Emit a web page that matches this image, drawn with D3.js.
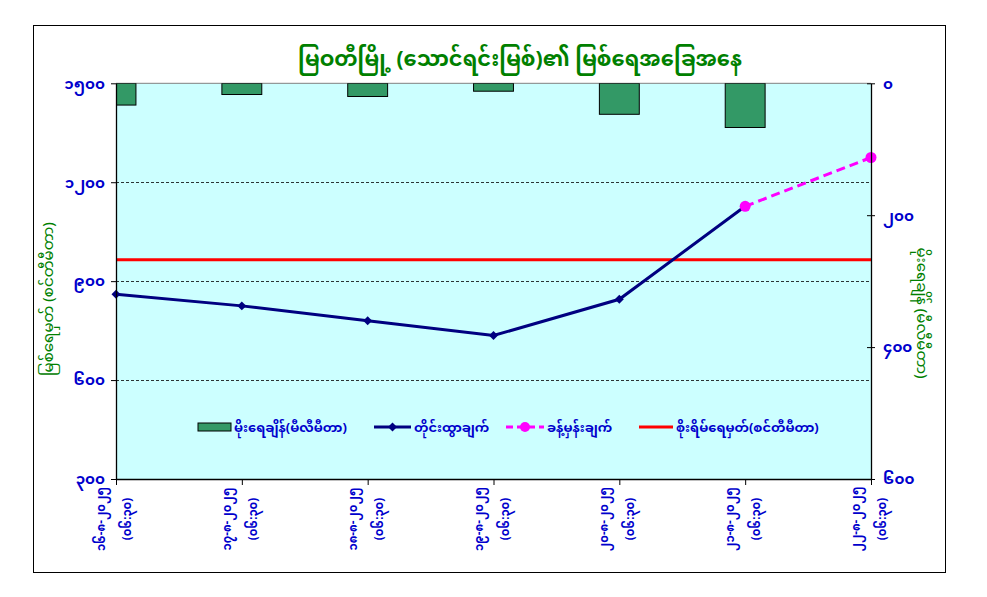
<!DOCTYPE html>
<html>
<head>
<meta charset="utf-8">
<script src="https://cdn.jsdelivr.net/npm/d3@7"></script>
<style>
  html, body { margin: 0; padding: 0; background: #ffffff; }
  svg { display: block; font-family: "Noto Sans Myanmar", "Padauk", "Myanmar Text", "Noto Sans", "DejaVu Sans", sans-serif; }
</style>
</head>
<body>
<svg id="chart" width="987" height="597"></svg>
<script>
// ---------- DATA ----------
const categories = ["၁၆-၈-၂၀၂၅", "၁၇-၈-၂၀၂၅", "၁၈-၈-၂၀၂၅", "၁၉-၈-၂၀၂၅", "၂၀-၈-၂၀၂၅", "၂၁-၈-၂၀၂၅", "၂၂-၈-၂၀၂၅"];
const timeLabels = ["(၀၆:၃၀)", "(၀၆:၃၀)", "(၀၆:၃၀)", "(၀၆:၃၀)", "(၀၆:၃၀)", "(၀၆:၃၀)", "(၀၆:၃၀)"];
const rainfall = [33, 17, 20, 12, 47, 67, null];            // mm, right axis (reversed)
const observed = [860, 825, 780, 735, 845, 1127, null];     // cm, left axis
const forecast = [null, null, null, null, null, 1127, 1275];
const warningLevel = [965, 965, 965, 965, 965, 965, 965];
const leftTickValues = [300, 600, 900, 1200, 1500];
const leftTickLabels = ["၃၀၀", "၆၀၀", "၉၀၀", "၁၂၀၀", "၁၅၀၀"];
const rightTickValues = [0, 200, 400, 600];
const rightTickLabels = ["၀", "၂၀၀", "၄၀၀", "၆၀၀"];
const gridValues = [600, 900, 1200];
const titleText = "မြဝတီမြို့ (သောင်ရင်းမြစ်)၏ မြစ်ရေအခြေအနေ";
const leftAxisTitle = "မြစ်ရေမှတ် (စင်တီမီတာ)";
const rightAxisTitle = "မိုးရေချိန် (မီလီမီတာ)";
const legendLabels = ["မိုးရေချိန်(မီလီမီတာ)", "တိုင်းထွာချက်", "ခန့်မှန်းချက်", "စိုးရိမ်ရေမှတ်(စင်တီမီတာ)"];

// ---------- LAYOUT ----------
const svg = d3.select("#chart");
const plot = { left: 116, right: 871, top: 83.3, bottom: 479 };
const blue = "#0000cc", green = "#008000";

const x = d3.scalePoint().domain(d3.range(categories.length)).range([plot.left, plot.right]);
const yL = d3.scaleLinear().domain([300, 1500]).range([plot.bottom, plot.top]);
const yR = d3.scaleLinear().domain([0, 600]).range([plot.top, plot.bottom]);
const step = x.step();
const barW = step * 0.317;

// outer border
svg.append("rect").attr("x", 33.5).attr("y", 25.5).attr("width", 912).attr("height", 547)
  .attr("fill", "#fff").attr("stroke", "#000").attr("stroke-width", 1);

// title
svg.append("text").attr("x", 520).attr("y", 66).attr("text-anchor", "middle")
  .attr("fill", green).attr("font-size", 21).attr("font-weight", "bold").text(titleText);

// plot background
svg.append("rect").attr("x", plot.left).attr("y", plot.top)
  .attr("width", plot.right - plot.left).attr("height", plot.bottom - plot.top)
  .attr("fill", "#ccffff");
svg.append("line").attr("x1", plot.left).attr("x2", plot.right)
  .attr("y1", plot.top).attr("y2", plot.top).attr("stroke", "#808080").attr("stroke-width", 1);

svg.append("clipPath").attr("id", "clip").append("rect")
  .attr("x", plot.left).attr("y", plot.top)
  .attr("width", plot.right - plot.left).attr("height", plot.bottom - plot.top);

// gridlines
svg.append("g").selectAll("line").data(gridValues).join("line")
  .attr("x1", plot.left).attr("x2", plot.right)
  .attr("y1", d => Math.round(yL(d)) + 0.5).attr("y2", d => Math.round(yL(d)) + 0.5)
  .attr("stroke", "#000").attr("stroke-width", 0.8).attr("stroke-dasharray", "3,2");

// bars (rainfall, hanging from top)
svg.append("g").attr("clip-path", "url(#clip)").selectAll("rect")
  .data(rainfall.map((v, i) => ({ v, i })).filter(d => d.v != null)).join("rect")
  .attr("x", d => x(d.i) - barW / 2).attr("y", yR(0))
  .attr("width", barW).attr("height", d => yR(d.v) - yR(0))
  .attr("fill", "#339966").attr("stroke", "#000").attr("stroke-width", 1);

// warning line
const lineL = d3.line().defined(d => d.v != null).x(d => x(d.i)).y(d => yL(d.v));
const idx = arr => arr.map((v, i) => ({ v, i }));
svg.append("path").datum(idx(warningLevel)).attr("d", lineL)
  .attr("fill", "none").attr("stroke", "#ff0000").attr("stroke-width", 3);

// observed
svg.append("path").datum(idx(observed)).attr("d", lineL)
  .attr("fill", "none").attr("stroke", "#000080").attr("stroke-width", 3);
const diamond = d3.symbol().type(d3.symbolSquare).size(40);
svg.append("g").selectAll("path").data(idx(observed).filter(d => d.v != null)).join("path")
  .attr("transform", d => `translate(${x(d.i)},${yL(d.v)}) rotate(45)`).attr("d", diamond)
  .attr("fill", "#000080");

// forecast
svg.append("path").datum(idx(forecast)).attr("d", lineL)
  .attr("fill", "none").attr("stroke", "#ff00ff").attr("stroke-width", 3).attr("stroke-dasharray", "9,5");
svg.append("g").selectAll("circle").data(idx(forecast).filter(d => d.v != null)).join("circle")
  .attr("cx", d => x(d.i)).attr("cy", d => yL(d.v)).attr("r", 5.5).attr("fill", "#ff00ff");

// axes
const styleAxis = g => {
  g.selectAll(".domain").attr("stroke", "#000").attr("stroke-width", 1.3);
  g.selectAll(".tick line").attr("stroke", "#000");
  g.selectAll(".tick text").attr("fill", blue).attr("font-weight", "bold").attr("font-size", 15);
};
svg.append("g").attr("transform", `translate(${plot.left},0)`)
  .call(d3.axisLeft(yL).tickValues(leftTickValues).tickFormat((d, i) => leftTickLabels[i]).tickSize(5).tickSizeOuter(0).tickPadding(6))
  .call(styleAxis).attr("font-family", null);
svg.append("g").attr("transform", `translate(${plot.right},0)`)
  .call(d3.axisRight(yR).tickValues(rightTickValues).tickFormat((d, i) => rightTickLabels[i]).tickSize(4).tickSizeOuter(0).tickPadding(8))
  .call(styleAxis).attr("font-family", null)
  .call(g => g.selectAll(".tick").append("line").attr("x1", -4).attr("x2", 0).attr("stroke", "#000"));
svg.append("g").attr("transform", `translate(0,${plot.bottom})`)
  .call(d3.axisBottom(x).tickSize(6).tickSizeOuter(0).tickFormat(""))
  .call(styleAxis).attr("font-family", null);

// category labels (rotated, two lines)
const catG = svg.append("g").selectAll("g").data(categories).join("g")
  .attr("transform", (d, i) => `translate(${x(i)},519) rotate(-90)`);
catG.append("text").attr("x", 0).attr("y", -11).attr("text-anchor", "middle")
  .attr("fill", blue).attr("font-weight", "bold").attr("font-size", 11.5).text(d => d);
catG.append("text").attr("x", 0).attr("y", 15).attr("text-anchor", "middle")
  .attr("fill", blue).attr("font-weight", "bold").attr("font-size", 11.5).text((d, i) => timeLabels[i]);

// axis titles
svg.append("text").attr("transform", "translate(53,299) rotate(-90)").attr("text-anchor", "middle")
  .attr("fill", green).attr("font-size", 15).text(leftAxisTitle);
svg.append("text").attr("transform", "translate(917,313) rotate(90)").attr("text-anchor", "middle")
  .attr("fill", green).attr("font-size", 15).text(rightAxisTitle);

// legend
const ly = 427;
const lg = svg.append("g").attr("font-size", 13).attr("font-weight", "bold").attr("fill", blue);
lg.append("rect").attr("x", 198).attr("y", ly - 4).attr("width", 33).attr("height", 8)
  .attr("fill", "#339966").attr("stroke", "#000").attr("stroke-width", 1);
lg.append("text").attr("x", 234).attr("y", ly + 5).text(legendLabels[0]);
lg.append("line").attr("x1", 374).attr("x2", 411).attr("y1", ly).attr("y2", ly).attr("stroke", "#000080").attr("stroke-width", 3);
lg.append("path").attr("transform", `translate(392.5,${ly}) rotate(45)`).attr("d", diamond).attr("fill", "#000080");
lg.append("text").attr("x", 414).attr("y", ly + 5).text(legendLabels[1]);
lg.append("line").attr("x1", 506).attr("x2", 544).attr("y1", ly).attr("y2", ly).attr("stroke", "#ff00ff").attr("stroke-width", 3).attr("stroke-dasharray", "7,4");
lg.append("circle").attr("cx", 525).attr("cy", ly).attr("r", 5).attr("fill", "#ff00ff");
lg.append("text").attr("x", 547).attr("y", ly + 5).text(legendLabels[2]);
lg.append("line").attr("x1", 639).attr("x2", 673).attr("y1", ly).attr("y2", ly).attr("stroke", "#ff0000").attr("stroke-width", 3);
lg.append("text").attr("x", 676).attr("y", ly + 5).text(legendLabels[3]);
</script>
</body>
</html>
